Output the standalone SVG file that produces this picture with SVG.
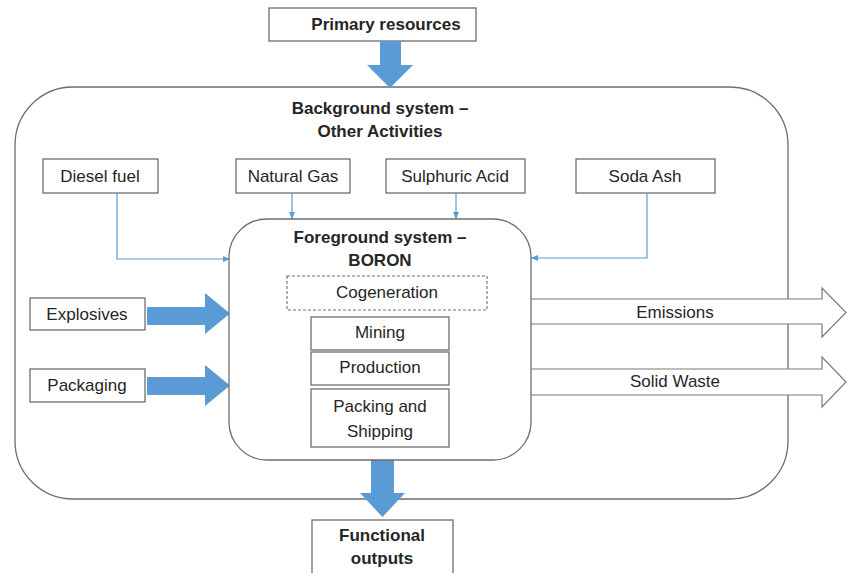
<svg xmlns="http://www.w3.org/2000/svg" width="847" height="573" viewBox="0 0 847 573">
  <defs>
    <marker id="ah" markerWidth="8" markerHeight="8" refX="7" refY="4" orient="auto" markerUnits="userSpaceOnUse">
      <path d="M0,1 L7,4 L0,7 Z" fill="#5B9BD5"/>
    </marker>
    <style>
      .box { fill: #fff; stroke: #6e6e6e; stroke-width: 1.3; }
      .dash { fill: #fff; stroke: #6e6e6e; stroke-width: 1.1; stroke-dasharray: 3 2; }
      .t { font-family: "Liberation Sans", Arial, sans-serif; font-size: 17px; fill: #262626; text-anchor: middle; }
      .b { font-weight: bold; }
      .blue { fill: #5B9BD5; }
      .conn { fill: none; stroke: #5B9BD5; stroke-width: 1.2; }
      .hollow { fill: #fff; stroke: #7a7a7a; stroke-width: 1.2; }
    </style>
  </defs>
  <rect width="847" height="573" fill="#fff"/>

  <g id="background">
    <rect class="box" x="15" y="87" width="773" height="412" rx="58" ry="58"/>
    <text class="t b" x="380" y="114">Background system –</text>
    <text class="t b" x="380" y="137">Other Activities</text>
  </g>

  <g id="primary">
    <rect class="box" x="269" y="8" width="207" height="33"/>
    <text class="t b" x="386" y="30">Primary resources</text>
  </g>

  <g id="diesel">
    <rect class="box" x="43" y="159" width="115" height="34"/>
    <text class="t" x="100" y="182">Diesel fuel</text>
  </g>
  <g id="natgas">
    <rect class="box" x="236" y="159" width="114" height="34"/>
    <text class="t" x="293" y="182">Natural Gas</text>
  </g>
  <g id="sulphuric">
    <rect class="box" x="386" y="159" width="139" height="34"/>
    <text class="t" x="455" y="182">Sulphuric Acid</text>
  </g>
  <g id="soda">
    <rect class="box" x="576" y="159" width="139" height="34"/>
    <text class="t" x="645" y="182">Soda Ash</text>
  </g>

  <g id="connectors">
    <polygon class="blue" points="380,41 401,41 401,65 413,65 390,88 367,65 380,65"/>
    <polyline class="conn" points="117,193 117,259 230,259" marker-end="url(#ah)"/>
    <polyline class="conn" points="292,193 292,219" marker-end="url(#ah)"/>
    <polyline class="conn" points="456,193 456,219" marker-end="url(#ah)"/>
    <polyline class="conn" points="647,193 647,258 531,258" marker-end="url(#ah)"/>
    <polygon class="blue" points="147,307 205,307 205,293 230,313.5 205,334 205,325 147,325"/>
    <polygon class="blue" points="147,377 205,377 205,365 230,385.5 205,406 205,395 147,395"/>
    <polygon class="blue" points="371,460 394,460 394,493 405,493 382.5,517 360,493 371,493"/>
    <path class="hollow" d="M531,299 H822 V288 L846,312.5 L822,337 V324 H531"/>
    <path class="hollow" d="M531,369 H822 V357 L846,382 L822,407 V395 H531"/>
  </g>

  <g id="emissions">
    <text class="t" x="675" y="318">Emissions</text>
  </g>
  <g id="solidwaste">
    <text class="t" x="675" y="387">Solid Waste</text>
  </g>

  <g id="foreground">
    <rect class="box" x="229" y="219" width="302" height="241" rx="38" ry="38"/>
    <text class="t b" x="380" y="243">Foreground system –</text>
    <text class="t b" x="380" y="266">BORON</text>
  </g>

  <g id="cogeneration">
    <rect class="dash" x="287" y="276" width="200" height="34"/>
    <text class="t" x="387" y="298">Cogeneration</text>
  </g>
  <g id="mining">
    <rect class="box" x="311" y="317" width="138" height="33"/>
    <text class="t" x="380" y="338">Mining</text>
  </g>
  <g id="production">
    <rect class="box" x="311" y="352" width="138" height="33"/>
    <text class="t" x="380" y="373">Production</text>
  </g>
  <g id="packing">
    <rect class="box" x="311" y="389" width="138" height="58"/>
    <text class="t" x="380" y="412">Packing and</text>
    <text class="t" x="380" y="437">Shipping</text>
  </g>

  <g id="explosives">
    <rect class="box" x="30" y="298" width="115" height="32"/>
    <text class="t" x="87" y="320">Explosives</text>
  </g>
  <g id="packaging">
    <rect class="box" x="30" y="369" width="115" height="33"/>
    <text class="t" x="87" y="391">Packaging</text>
  </g>

  <g id="functional">
    <rect class="box" x="312" y="520" width="141" height="60"/>
    <text class="t b" x="382" y="541">Functional</text>
    <text class="t b" x="382" y="564">outputs</text>
  </g>
</svg>
